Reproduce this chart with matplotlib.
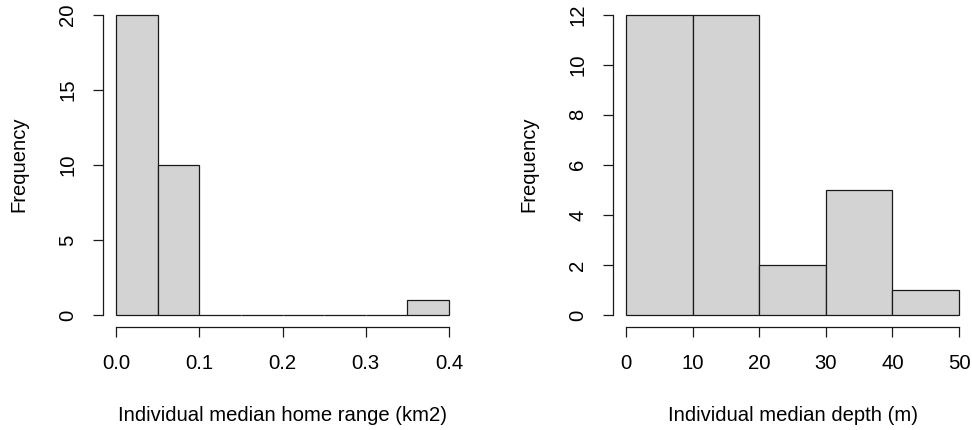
import matplotlib
matplotlib.use('Agg')
import matplotlib.pyplot as plt
import numpy as np

plt.rcParams['font.family'] = ['Liberation Sans', 'DejaVu Sans']

# histogram bins and counts
range_edges = [0.0, 0.05, 0.10, 0.15, 0.20, 0.25, 0.30, 0.35, 0.40]
range_counts = [20, 10, 0, 0, 0, 0, 0, 1]
range_xticks = [0.0, 0.1, 0.2, 0.3, 0.4]
range_xticklabels = ['0.0', '0.1', '0.2', '0.3', '0.4']
range_yticks = [0, 5, 10, 15, 20]

depth_edges = [0, 10, 20, 30, 40, 50]
depth_counts = [12, 12, 2, 5, 1]
depth_xticks = [0, 10, 20, 30, 40, 50]
depth_xticklabels = ['0', '10', '20', '30', '40', '50']
depth_yticks = [0, 2, 4, 6, 8, 10, 12]

W, H = 972, 430
fig = plt.figure(figsize=(W / 100, H / 100), dpi=100)
fig.patch.set_facecolor('white')

FS = 14.6


def r_hist(ax, edges, counts, xticks, xticklabels, yticks, xlabel):
    edges = np.asarray(edges, dtype=float)
    widths = np.diff(edges)
    bars = ax.bar(edges[:-1], counts, widths, align='edge', color='#D3D3D3',
                  edgecolor='#1a1a1a', linewidth=0.9)
    for b in bars:
        b.set_joinstyle('miter')
    xr = edges[-1] - edges[0]
    ymax = max(counts)
    ax.set_xlim(edges[0] - 0.04 * xr, edges[-1] + 0.04 * xr)
    ax.set_ylim(-0.04 * ymax, ymax * 1.04)
    for s in ['top', 'right']:
        ax.spines[s].set_visible(False)
    for s in ['left', 'bottom']:
        ax.spines[s].set_linewidth(0.9)
        ax.spines[s].set_color('#1a1a1a')
    ax.spines['bottom'].set_bounds(xticks[0], xticks[-1])
    ax.spines['left'].set_bounds(yticks[0], yticks[-1])
    ax.set_xticks(xticks)
    ax.set_xticklabels(xticklabels, fontsize=FS)
    ax.set_yticks(yticks)
    ax.set_yticklabels([str(v) for v in yticks], fontsize=FS, rotation=90,
                       va='center')
    ax.tick_params(axis='x', direction='out', length=7.5, width=0.9,
                   color='#1a1a1a', pad=12)
    ax.tick_params(axis='y', direction='out', length=7.5, width=0.9,
                   color='#1a1a1a', pad=11)
    ax.set_xlabel(xlabel, fontsize=FS, labelpad=23.5)
    ax.set_ylabel('Frequency', fontsize=FS, labelpad=21)


ax1 = fig.add_axes([102.7 / W, 1 - 327 / H, 359.6 / W, 324.5 / H])
r_hist(ax1, range_edges, range_counts, range_xticks, range_xticklabels,
       range_yticks, 'Individual median home range (km2)')

ax2 = fig.add_axes([612.7 / W, 1 - 327 / H, 359.6 / W, 324.5 / H])
r_hist(ax2, depth_edges, depth_counts, depth_xticks, depth_xticklabels,
       depth_yticks, 'Individual median depth (m)')

fig.savefig('out.png', dpi=100, facecolor='white')
